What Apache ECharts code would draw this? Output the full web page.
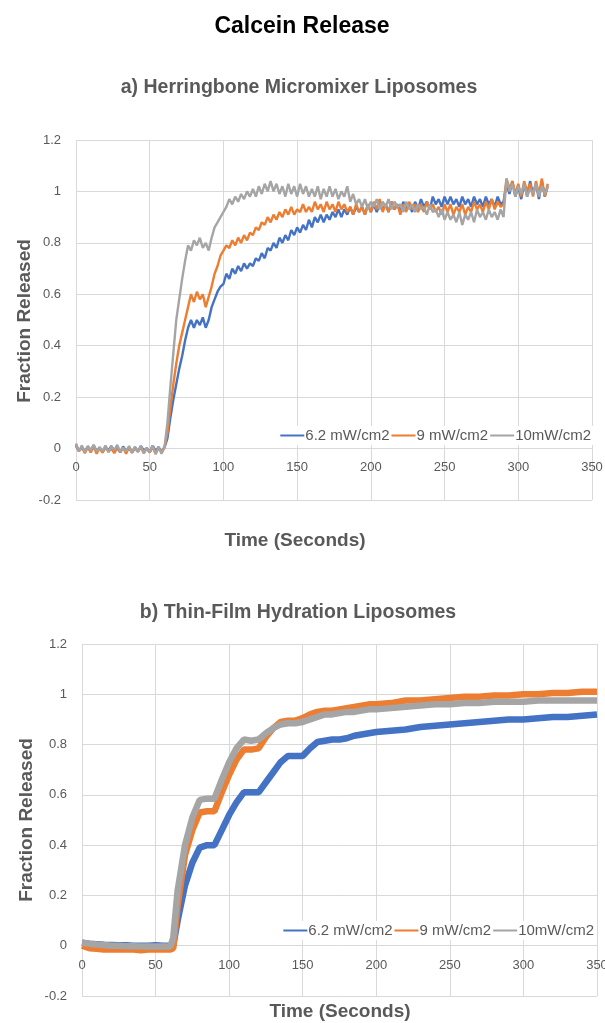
<!DOCTYPE html>
<html>
<head>
<meta charset="utf-8">
<script src="https://cdn.jsdelivr.net/npm/echarts@6/dist/echarts.min.js"></script>
<style>
html,body{margin:0;padding:0;background:#fff;}
#chart{width:605px;height:1023px;}
</style>
</head>
<body>
<div id="chart"></div>
<script>
// ---------- DATA ----------
const seriesNames = ["6.2 mW/cm2", "9 mW/cm2", "10mW/cm2"];
const xTicks = [0, 50, 100, 150, 200, 250, 300, 350];
const yTicks = [-0.2, 0, 0.2, 0.4, 0.6, 0.8, 1, 1.2];

// (a) Herringbone Micromixer Liposomes — time (s)
const timesA = [0,2,4,6,8,10,12,14,16,18,20,22,24,26,28,30,32,34,36,38,40,42,44,46,48,50,52,54,56,58,60,
62,64,66,68,70,72,74,76,78,80,82,84,86,88,90,
92,94,96,98,100,102,104,106,108,110,112,114,116,118,120,122,124,126,128,130,
132,134,136,138,140,142,144,146,148,150,152,154,156,158,160,162,164,166,168,170,
172,174,176,178,180,182,184,186,188,190,192,194,196,198,200,202,204,206,208,210,
212,214,216,218,220,222,224,226,228,230,232,234,236,238,240,242,244,246,248,250,
252,254,256,258,260,262,264,266,268,270,272,274,276,278,280,282,284,286,288,290,
292,294,296,298,300,302,304,306,308,310,312,314,316,318,320];

const a62 = [0.01,-0.01,0.005,-0.012,0.008,-0.006,0.012,-0.01,0.004,-0.014,0.006,-0.008,0.01,-0.012,0.002,-0.015,0.008,-0.01,0.004,-0.016,0.006,-0.012,0.01,-0.008,0.002,-0.014,0.012,-0.01,0.006,-0.012,0.004,
0.04,0.12,0.19,0.25,0.31,0.36,0.42,0.47,0.50,0.47,0.50,0.48,0.51,0.47,0.50,
0.55,0.58,0.61,0.63,0.64,0.68,0.66,0.70,0.68,0.71,0.69,0.72,0.70,0.72,0.71,0.74,0.73,0.76,0.74,0.78,
0.77,0.80,0.78,0.82,0.80,0.83,0.81,0.85,0.83,0.86,0.84,0.87,0.85,0.89,0.86,0.90,0.88,0.91,0.88,0.91,
0.89,0.92,0.90,0.93,0.90,0.93,0.91,0.94,0.91,0.94,0.92,0.94,0.91,0.95,0.92,0.95,0.92,0.95,0.93,0.95,
0.92,0.96,0.93,0.95,0.92,0.96,0.93,0.95,0.92,0.96,0.93,0.97,0.94,0.96,0.93,0.98,0.95,0.97,0.94,0.98,
0.95,0.98,0.95,0.97,0.94,0.98,0.95,0.97,0.94,0.98,0.95,0.97,0.94,0.98,0.95,0.97,0.94,0.98,0.95,0.96,
1.03,0.99,1.04,0.98,1.02,0.97,1.03,0.98,1.04,0.99,1.03,0.97,1.04,0.98,1.02];

const a9 = [0.015,-0.01,0.005,-0.018,0.004,-0.015,0.008,-0.02,0.002,-0.016,0.006,-0.012,0.0,-0.018,0.005,-0.014,0.003,-0.02,0.006,-0.016,0.002,-0.012,0.004,-0.018,0.0,-0.015,0.006,-0.02,0.003,-0.012,0.005,
0.06,0.16,0.25,0.33,0.40,0.45,0.50,0.55,0.60,0.57,0.61,0.58,0.60,0.55,0.59,
0.63,0.68,0.71,0.75,0.77,0.79,0.78,0.81,0.79,0.82,0.80,0.83,0.81,0.84,0.83,0.86,0.85,0.88,0.87,0.90,
0.88,0.91,0.89,0.92,0.90,0.93,0.91,0.94,0.91,0.93,0.92,0.95,0.92,0.94,0.92,0.96,0.93,0.95,0.92,0.96,
0.93,0.95,0.92,0.96,0.93,0.95,0.92,0.94,0.91,0.95,0.92,0.94,0.91,0.95,0.92,0.96,0.93,0.97,0.92,0.95,
0.92,0.96,0.93,0.95,0.91,0.95,0.92,0.96,0.93,0.95,0.92,0.95,0.92,0.96,0.93,0.95,0.92,0.94,0.91,0.95,
0.92,0.95,0.91,0.94,0.92,0.95,0.91,0.94,0.92,0.96,0.93,0.95,0.92,0.96,0.93,0.97,0.93,0.96,0.94,0.95,
1.05,1.01,1.04,0.99,1.03,0.98,1.04,1.00,1.03,0.98,1.04,0.99,1.05,0.98,1.03];

const a10 = [0.02,-0.01,0.012,-0.015,0.01,-0.008,0.015,-0.012,0.006,-0.01,0.012,-0.014,0.008,-0.006,0.014,-0.012,0.004,-0.01,0.01,-0.016,0.006,-0.012,0.01,-0.018,0.004,-0.014,0.012,-0.022,0.006,-0.02,0.004,
0.10,0.24,0.37,0.50,0.58,0.66,0.73,0.79,0.77,0.81,0.79,0.82,0.78,0.80,0.77,
0.82,0.86,0.88,0.90,0.92,0.94,0.97,0.95,0.98,0.96,0.99,0.97,1.00,0.98,1.01,0.98,1.02,0.99,1.03,1.00,
1.04,1.00,1.03,0.99,1.02,0.98,1.03,0.99,1.02,0.98,1.03,0.99,1.02,0.98,1.01,0.98,1.02,0.97,1.01,0.98,
1.02,0.98,1.01,0.97,1.00,0.98,1.02,0.96,0.99,0.95,0.97,0.94,0.97,0.93,0.96,0.94,0.97,0.93,0.96,0.94,
0.97,0.93,0.96,0.94,0.95,0.92,0.96,0.93,0.95,0.92,0.95,0.93,0.94,0.91,0.95,0.92,0.93,0.90,0.93,0.89,
0.92,0.89,0.91,0.88,0.92,0.87,0.91,0.89,0.92,0.88,0.93,0.90,0.92,0.89,0.93,0.90,0.92,0.89,0.93,0.90,
1.05,1.00,1.03,0.98,1.02,0.99,1.03,0.98,1.01,0.99,1.03,0.98,1.02,0.99,1.02];

// (b) Thin-Film Hydration Liposomes — time (s)
const timesB = [0,5,10,15,20,25,30,35,40,45,50,55,60,62,65,70,75,80,85,90,95,100,105,110,115,120,125,130,135,140,145,150,155,160,165,170,175,180,185,190,195,200,210,220,230,240,250,260,270,280,290,300,310,320,330,340,350];

const b62 = [0.012,0.008,0.006,0.004,0.003,0.002,0.002,0.0,0.0,0.0,0.002,0.0,0.0,0.0,
0.10,0.24,0.33,0.39,0.40,0.40,0.46,0.52,0.57,0.61,
0.61,0.61,0.65,0.69,0.73,0.755,0.755,0.755,0.785,0.81,
0.815,0.82,0.82,0.825,0.835,0.84,0.845,0.85,
0.855,0.86,0.87,0.875,0.88,0.885,0.89,0.895,0.90,0.90,
0.905,0.91,0.91,0.915,0.92];

const b9 = [0.0,-0.01,-0.012,-0.015,-0.015,-0.015,-0.015,-0.015,-0.018,-0.015,-0.015,-0.015,-0.015,-0.01,
0.16,0.36,0.46,0.53,0.535,0.535,0.61,0.68,0.74,0.78,
0.78,0.785,0.83,0.865,0.89,0.895,0.895,0.905,0.92,0.93,
0.935,0.935,0.94,0.945,0.95,0.955,0.96,0.96,
0.965,0.975,0.975,0.98,0.985,0.99,0.99,0.995,0.995,1.0,
1.0,1.005,1.005,1.01,1.01];

const b10 = [0.012,0.008,0.005,0.003,0.0,0.0,-0.002,-0.002,-0.003,-0.003,-0.003,-0.003,-0.003,0.03,
0.22,0.40,0.51,0.58,0.585,0.585,0.66,0.73,0.785,0.82,
0.815,0.82,0.845,0.865,0.88,0.885,0.885,0.89,0.90,0.91,
0.92,0.92,0.925,0.93,0.93,0.935,0.94,0.94,
0.945,0.95,0.955,0.96,0.96,0.965,0.965,0.97,0.97,0.97,
0.975,0.975,0.975,0.975,0.975];

// ---------- CHART ----------
const colors = ["#4472C4", "#ED7D31", "#A5A5A5"];
const FONT = '"Liberation Sans", Arial, sans-serif';
const GRIDC = "#d9d9d9";
const TXT = "#595959";

function pairs(xs, ys) { return xs.map((x, i) => [x, ys[i]]); }

// x axis drawn at value 0 of the y axis: shift it up from the bottom by the -0.2..0 band
function xAxisFor(gi, margin, plotHeight) {
  const band = plotHeight * (0 - yTicks[0]) / (yTicks[yTicks.length - 1] - yTicks[0]);
  return {
    type: "value", gridIndex: gi, position: "bottom",
    min: xTicks[0], max: xTicks[xTicks.length - 1], interval: xTicks[1] - xTicks[0],
    offset: -band,
    axisLine: { show: true, onZero: false, lineStyle: { color: GRIDC, width: 1 } },
    axisTick: { show: false },
    axisLabel: { color: TXT, fontSize: 13, fontFamily: FONT, margin: margin },
    splitLine: { show: true, lineStyle: { color: GRIDC, width: 1 } }
  };
}
function yAxisFor(gi, margin) {
  return {
    type: "value", gridIndex: gi,
    min: yTicks[0], max: yTicks[yTicks.length - 1], interval: 0.2,
    axisLine: { show: false, onZero: false },
    axisTick: { show: false },
    axisLabel: { color: TXT, fontSize: 13, fontFamily: FONT, margin: margin },
    splitLine: { show: true, lineStyle: { color: GRIDC, width: 1 } }
  };
}
function legendFor(top, right) {
  return {
    data: seriesNames, top: top, right: right, orient: "horizontal",
    icon: "rect", itemWidth: 24, itemHeight: 2, itemGap: 2,
    backgroundColor: "#fff", padding: [2, 2],
    textStyle: { color: TXT, fontSize: 15, fontFamily: FONT, padding: [0, 0, 0, -4] }
  };
}
function lineSeries(name, idx, xs, ys, gi, w) {
  return {
    name: name, type: "line", xAxisIndex: gi, yAxisIndex: gi,
    data: pairs(xs, ys), showSymbol: false, symbol: "none",
    lineStyle: { color: colors[idx], width: w },
    itemStyle: { color: colors[idx] }
  };
}
function text(x, y, str, font, color, rot) {
  return {
    type: "text", x: x, y: y, rotation: rot || 0,
    style: { text: str, font: font, fill: color, align: "center", verticalAlign: "middle" }
  };
}

const chart = echarts.init(document.getElementById("chart"));
chart.setOption({
  animation: false,
  backgroundColor: "#fff",
  grid: [
    { left: 76, top: 140, width: 516, height: 360, containLabel: false, outerBoundsMode: "none" },
    { left: 82, top: 644, width: 515, height: 352, containLabel: false, outerBoundsMode: "none" }
  ],
  xAxis: [xAxisFor(0, 12, 360), xAxisFor(1, 13, 352)],
  yAxis: [yAxisFor(0, 15), yAxisFor(1, 15)],
  legend: [legendFor(426, 12), legendFor(921, 9)],
  series: [
    lineSeries(seriesNames[0], 0, timesA, a62, 0, 2.4),
    lineSeries(seriesNames[1], 1, timesA, a9, 0, 2.4),
    lineSeries(seriesNames[2], 2, timesA, a10, 0, 2.4),
    lineSeries(seriesNames[0], 0, timesB, b62, 1, 6.5),
    lineSeries(seriesNames[1], 1, timesB, b9, 1, 6.5),
    lineSeries(seriesNames[2], 2, timesB, b10, 1, 6.5)
  ],
  graphic: [
    text(302, 27, "Calcein Release", "bold 23px " + FONT, "#000"),
    text(299, 88, "a) Herringbone Micromixer Liposomes", "bold 19.5px " + FONT, TXT),
    text(25, 321, "Fraction Released", "bold 19px " + FONT, TXT, Math.PI / 2),
    text(295, 541, "Time (Seconds)", "bold 19px " + FONT, TXT),
    text(298, 613, "b) Thin-Film Hydration Liposomes", "bold 19.5px " + FONT, TXT),
    text(27, 820, "Fraction Released", "bold 19px " + FONT, TXT, Math.PI / 2),
    text(340, 1012, "Time (Seconds)", "bold 19px " + FONT, TXT)
  ]
});
</script>
</body>
</html>
